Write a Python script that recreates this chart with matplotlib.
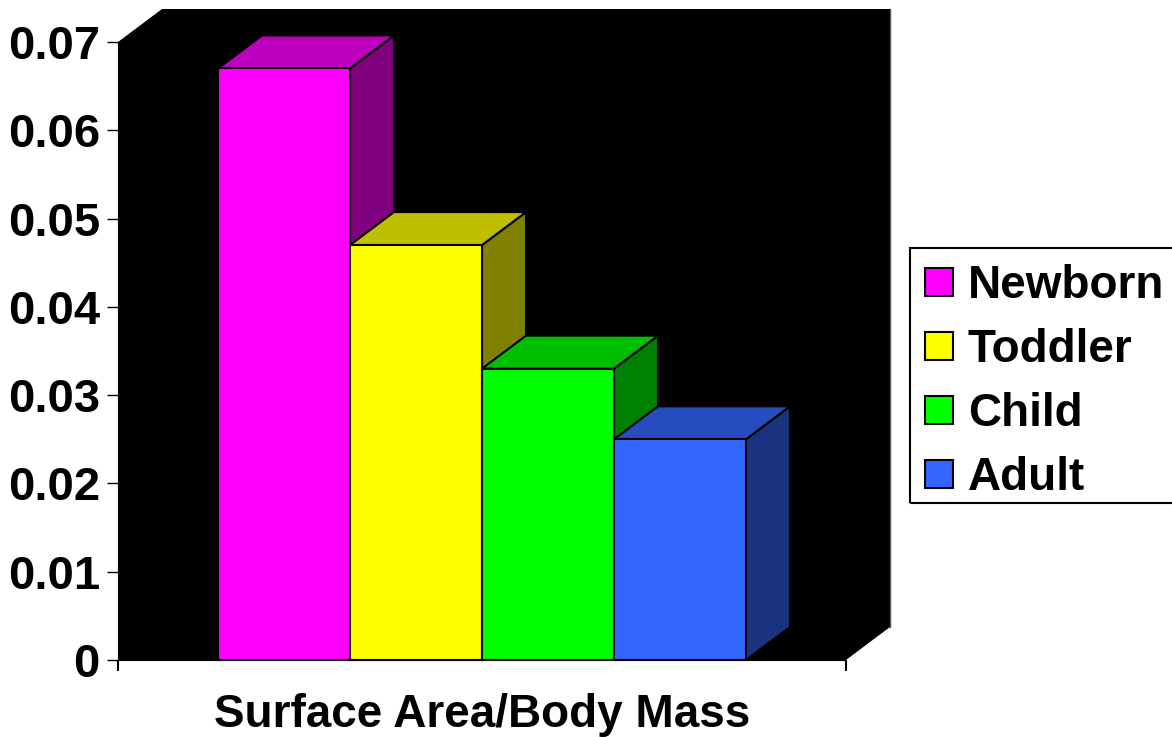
import matplotlib.pyplot as plt
from matplotlib.patches import Polygon, Rectangle

# data
categories = ["Newborn", "Toddler", "Child", "Adult"]
values = [0.067, 0.047, 0.033, 0.025]
front_colors = ["#FF00FF", "#FFFF00", "#00FF00", "#3366FF"]
top_colors = ["#BF00BF", "#BFBF00", "#00BF00", "#264CBF"]
side_colors = ["#800080", "#808000", "#008000", "#1A3380"]
yticks = [0, 0.01, 0.02, 0.03, 0.04, 0.05, 0.06, 0.07]
ytick_labels = ["0", "0.01", "0.02", "0.03", "0.04", "0.05", "0.06", "0.07"]
xlabel = "Surface Area/Body Mass"

plt.rcParams['font.family'] = ['Liberation Sans', 'DejaVu Sans']
plt.rcParams['font.weight'] = 'bold'

W, H = 1172, 737
fig = plt.figure(figsize=(W / 100, H / 100), dpi=100)
ax = fig.add_axes([118 / W, 77 / H, 728 / W, 618 / H])

xmin, xmax = -1.2576, 4.2576
ymin, ymax = 0, 0.07
ax.set_xlim(xmin, xmax)
ax.set_ylim(ymin, ymax)
ax.set_facecolor("none")

# oblique depth (x in bar widths, y in value units)
dx = 44 / 132
dy = 33 / 618 * (ymax - ymin)

# back wall + floor, all black
wall = Polygon([(xmin, 0), (xmin, ymax), (xmin + dx, ymax + dy),
                (xmax + dx, ymax + dy), (xmax + dx, dy), (xmax, 0)],
               closed=True, facecolor="black", edgecolor="none",
               clip_on=False, zorder=0.5)
ax.add_patch(wall)
ax.plot([xmax + dx, xmax + dx], [dy, ymax + dy], color="#555555", lw=1,
        clip_on=False, zorder=0.6)

# 3d-ish bars, left to right
w = 1.0
for i, v in enumerate(values):
    x0 = i - w / 2
    x1 = i + w / 2
    side = Polygon([(x1, 0), (x1 + dx, dy), (x1 + dx, v + dy), (x1, v)],
                   facecolor=side_colors[i], edgecolor="black", lw=1.5,
                   clip_on=False, zorder=2 + i)
    top = Polygon([(x0, v), (x0 + dx, v + dy), (x1 + dx, v + dy), (x1, v)],
                  facecolor=top_colors[i], edgecolor="black", lw=1.5,
                  clip_on=False, zorder=2 + i)
    ax.add_patch(side)
    ax.add_patch(top)
    ax.bar(i, v, width=w, color=front_colors[i], edgecolor="black",
           linewidth=1.5, zorder=2 + i, clip_on=False)

# axes
for s in ["top", "right"]:
    ax.spines[s].set_visible(False)
ax.spines["left"].set_color("black")
ax.spines["bottom"].set_color("black")
ax.set_yticks(yticks)
ax.set_yticklabels(ytick_labels)
ax.tick_params(axis="y", direction="out", length=8, width=1, pad=5,
               labelsize=34)
ax.set_xticks([xmin, xmax])
ax.set_xticklabels(["", ""])
ax.tick_params(axis="x", direction="out", length=8, width=1.5)
ax.set_xlabel(xlabel, fontsize=33, fontweight="bold", labelpad=12)

# legend box (runs off the right edge)
fig.add_artist(Rectangle((910 / W, 1 - 503 / H), 280 / W, 255 / H,
                         transform=fig.transFigure, fill=False,
                         edgecolor="black", lw=1.5))
for i, name in enumerate(categories):
    yc = 282 + i * 64
    fig.add_artist(Rectangle((925 / W, 1 - (yc + 14) / H), 28 / W, 28 / H,
                             transform=fig.transFigure,
                             facecolor=front_colors[i], edgecolor="black",
                             lw=1.5))
    fig.text(968 / W, 1 - (yc + 4) / H, name, fontsize=33,
             fontweight="bold", va="center", ha="left")

fig.savefig("out.png", dpi=100)
